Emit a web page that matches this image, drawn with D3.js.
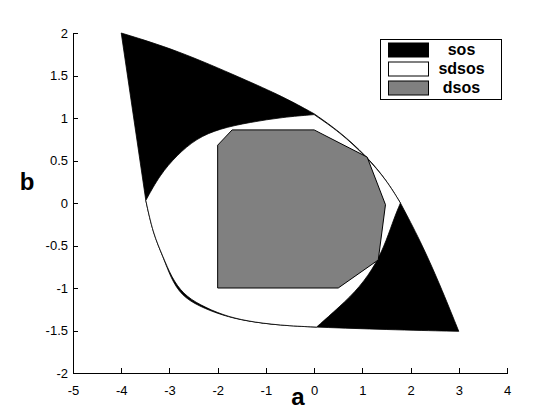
<!DOCTYPE html>
<html>
<head>
<meta charset="utf-8">
<script src="https://cdn.jsdelivr.net/npm/d3@7"></script>
<style>
  body { margin: 0; background: #fff; }
  svg { display: block; }
  .tick text { font-family: Arial, "Liberation Sans", sans-serif; font-size: 13px; fill: #000; }
  .axis path, .axis line { stroke: #000; shape-rendering: crispEdges; }
</style>
</head>
<body>
<svg id="chart" width="535" height="410"></svg>
<script>
// region boundaries, (a, b) pairs
let sosLeftEdge = [[-4, 2], [-3.49, 0.03]];
let sosLowerArc = [[-3.49, 0.03], [-3.34, -0.36], [-3.13, -0.635], [-2.97, -0.885], [-2.75, -1.09],
                   [-2.39, -1.215], [-1.89, -1.325], [-1.4, -1.39], [-0.71, -1.44], [0.05, -1.46]];
let sosBottomEdge = [[0.05, -1.46], [1.5, -1.49], [3, -1.51]];
let sosRightEdge = [[3, -1.51], [2.61, -0.96], [2.2, -0.44], [1.79, 0]];
let sosUpperRightArc = [[1.79, 0], [1.5, 0.27], [1.09, 0.55], [0.53, 0.84], [0, 1.05]];
let sosTopEdge = [[0, 1.05], [-0.64, 1.25], [-1.47, 1.46], [-2.85, 1.8], [-4, 2]];

let sdsosLowerRightArc = [[1.79, 0], [1.67, -0.16], [1.5, -0.44], [1.29, -0.71], [0.95, -0.99],
                          [0.53, -1.22], [0.05, -1.46]];
let sdsosLowerArc = [[0.05, -1.46], [-0.71, -1.44], [-1.4, -1.39], [-1.89, -1.32], [-2.37, -1.2],
                     [-2.72, -1.07], [-2.96, -0.87], [-3.13, -0.635], [-3.34, -0.36], [-3.49, 0.03]];
let sdsosUpperLeftArc = [[-3.49, 0.03], [-3.2, 0.33], [-2.85, 0.56], [-2.44, 0.76], [-1.96, 0.875],
                         [-1.33, 0.95], [-0.64, 1.01], [0, 1.04]];
let sdsosUpperRightArc = [[0, 1.04], [0.53, 0.835], [1.09, 0.54], [1.5, 0.27], [1.79, 0]];

let dsosPolygon = [[-2, 0.68], [-1.7, 0.86], [0, 0.86], [1.1, 0.54], [1.48, -0.02],
                   [1.33, -0.67], [0.5, -1], [-2, -1]];

let xTicks = [-5, -4, -3, -2, -1, 0, 1, 2, 3, 4];
let yTicks = [-2, -1.5, -1, -0.5, 0, 0.5, 1, 1.5, 2];
let legendNames = ['sos', 'sdsos', 'dsos'];
let legendColors = ['#000000', '#ffffff', '#808080'];

let margin = {top: 33, right: 28, bottom: 37, left: 73},
    width = 535 - margin.left - margin.right,
    height = 410 - margin.top - margin.bottom;

let svg = d3.select('#chart');
let g = svg.append('g').attr('transform', 'translate(' + margin.left + ',' + margin.top + ')');

let x = d3.scaleLinear().domain([-5, 4]).range([0, width]);
let y = d3.scaleLinear().domain([-2, 2]).range([height, 0]);

// joins smooth pieces into one closed outline, corners stay sharp
let smooth = d3.line().x(d => x(d[0])).y(d => y(d[1])).curve(d3.curveBasis);
let straight = d3.line().x(d => x(d[0])).y(d => y(d[1]));
let outline = function(pieces) {
    return pieces.map((p, i) => {
        let s = p.length > 2 ? smooth(p) : straight(p);
        return i === 0 ? s : s.replace(/^M/, 'L');
    }).join('') + 'Z';
};
let fmt = d => String(d);

g.append('path')
    .attr('d', outline([sosLeftEdge, sosLowerArc, sosBottomEdge, sosRightEdge, sosUpperRightArc, sosTopEdge]))
    .attr('fill', legendColors[0])
    .attr('stroke', '#000')
    .attr('stroke-width', 0.8);

g.append('path')
    .attr('d', outline([sdsosLowerRightArc, sdsosLowerArc, sdsosUpperLeftArc, sdsosUpperRightArc]))
    .attr('fill', legendColors[1])
    .attr('stroke', '#000')
    .attr('stroke-width', 0.8);

g.append('path')
    .attr('d', straight(dsosPolygon) + 'Z')
    .attr('fill', legendColors[2])
    .attr('stroke', '#000')
    .attr('stroke-width', 1);

// axes, ticks point inward like matlab
let xAxis = g.append('g').attr('class', 'axis')
    .attr('transform', 'translate(0,' + height + ')')
    .call(d3.axisBottom(x).tickValues(xTicks).tickSize(-5).tickPadding(10).tickSizeOuter(0).tickFormat(fmt));
let yAxis = g.append('g').attr('class', 'axis')
    .call(d3.axisLeft(y).tickValues(yTicks).tickSize(-5).tickPadding(10).tickSizeOuter(0).tickFormat(fmt));
xAxis.selectAll('.tick text').attr('dy', '0.95em');
yAxis.selectAll('.tick text').attr('x', -5);

svg.append('text')
    .attr('x', 298).attr('y', 405)
    .attr('text-anchor', 'middle')
    .style('font-family', 'Arial, "Liberation Sans", sans-serif')
    .style('font-weight', 'bold').style('font-size', '24px')
    .text('a');
svg.append('text')
    .attr('x', 27).attr('y', 190)
    .attr('text-anchor', 'middle')
    .style('font-family', 'Arial, "Liberation Sans", sans-serif')
    .style('font-weight', 'bold').style('font-size', '24px')
    .text('b');

// legend
let legend = svg.append('g').attr('transform', 'translate(380.5,39.5)');
legend.append('rect')
    .attr('width', 121).attr('height', 60)
    .attr('fill', '#fff').attr('stroke', '#000');
let item = legend.selectAll('.item')
    .data(legendNames)
    .enter().append('g')
    .attr('class', 'item')
    .attr('transform', (d, i) => 'translate(0,' + (i * 19) + ')');
item.append('rect')
    .attr('x', 8).attr('y', 3.5)
    .attr('width', 40).attr('height', 14)
    .attr('fill', (d, i) => legendColors[i])
    .attr('stroke', '#000');
item.append('text')
    .attr('x', 81).attr('y', 15)
    .attr('text-anchor', 'middle')
    .style('font-family', 'Arial, "Liberation Sans", sans-serif')
    .style('font-weight', 'bold').style('font-size', '16px')
    .text(d => d);
</script>
</body>
</html>
